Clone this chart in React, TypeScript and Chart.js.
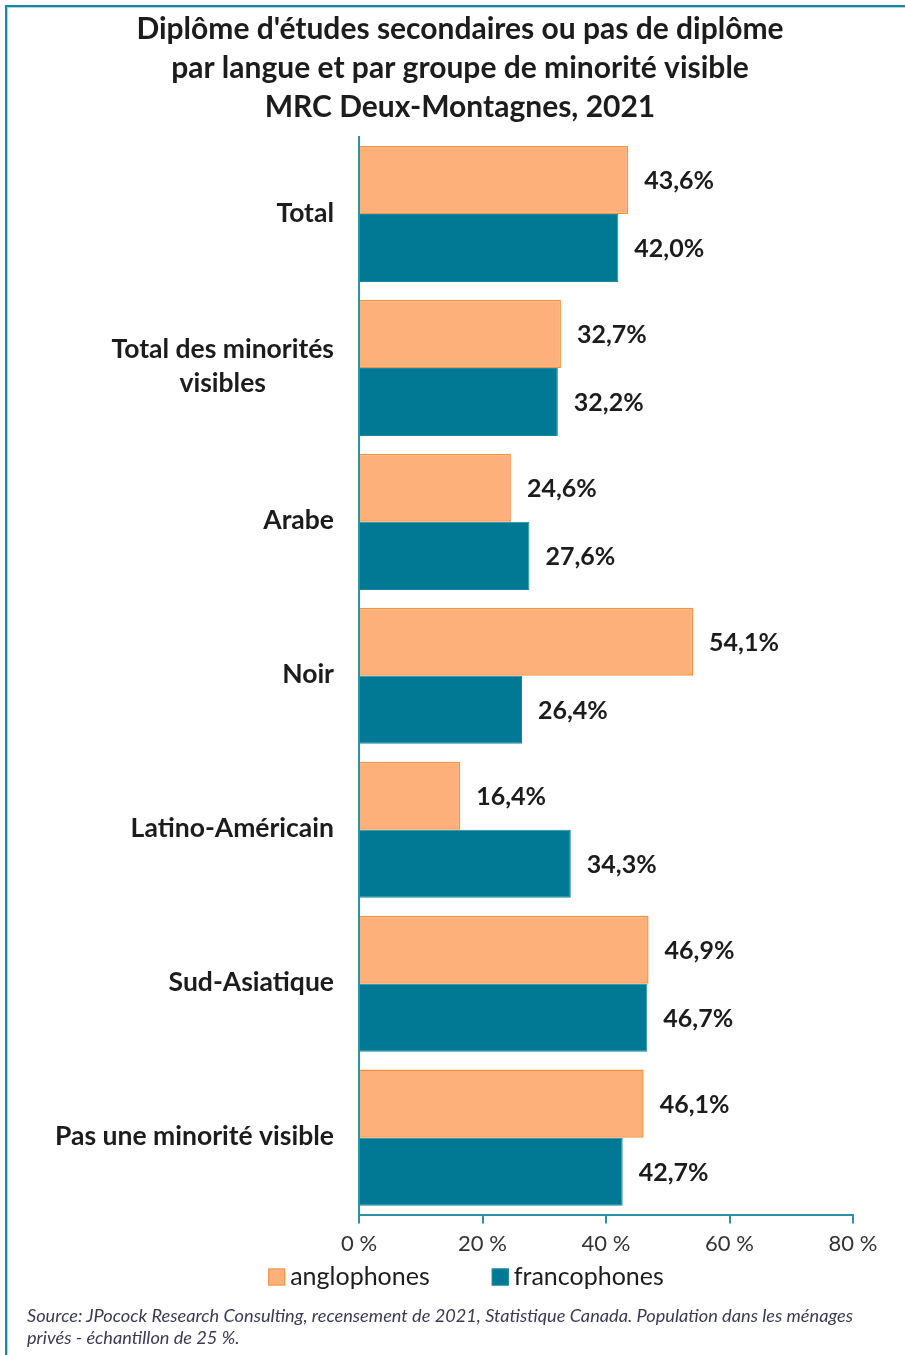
import React, { useEffect, useRef } from 'react';
import { Chart, registerables } from 'chart.js';

Chart.register(...registerables);

const categories: string[][] = [
  ['Total'],
  ['Total des minorités', 'visibles'],
  ['Arabe'],
  ['Noir'],
  ['Latino-Américain'],
  ['Sud-Asiatique'],
  ['Pas une minorité visible'],
];
const anglophones = [43.6, 32.7, 24.6, 54.1, 16.4, 46.9, 46.1];
const francophones = [42.0, 32.2, 27.6, 26.4, 34.3, 46.7, 42.7];
const seriesNames = ['anglophones', 'francophones'];
const xTickValues = [0, 20, 40, 60, 80];
const titleLines = [
  'Diplôme d\'études secondaires ou pas de diplôme',
  'par langue et par groupe de minorité visible',
  'MRC Deux-Montagnes, 2021',
];
const sourceLines = [
  'Source: JPocock Research Consulting, recensement de 2021, Statistique Canada. Population dans les ménages',
  'privés - échantillon de 25 %.',
];

const FONT = 'Lato, "Liberation Sans", sans-serif';
const TEAL_AXIS = '#2f90a8';
const ORANGE_FILL = '#FDB07A';
const ORANGE_BORDER = '#F7913D';
const TEAL_FILL = '#027994';
const TEXT = '#1c1c1c';

const fmt = (v: number) => v.toFixed(1).replace('.', ',') + '%';

const customDraw = {
  id: 'customDraw',
  afterDatasetsDraw(chart: any) {
    const ctx = chart.ctx;
    const yScale = chart.scales.y;
    const area = chart.chartArea;
    ctx.save();
    // category labels
    ctx.font = `bold 26.5px ${FONT}`;
    ctx.fillStyle = TEXT;
    ctx.textBaseline = 'middle';
    ctx.textAlign = 'center';
    const lineH = 34;
    categories.forEach((lines, i) => {
      const yc = yScale.getPixelForValue(i) - 1;
      const w = Math.max(...lines.map((l) => ctx.measureText(l).width));
      const right = area.left - 25;
      const cx = right - w / 2;
      const y0 = yc - ((lines.length - 1) * lineH) / 2;
      lines.forEach((l, j) => ctx.fillText(l, cx, y0 + j * lineH));
    });
    // data labels
    ctx.textAlign = 'left';
    ctx.font = `bold 25px ${FONT}`;
    chart.data.datasets.forEach((ds: any, di: number) => {
      const meta = chart.getDatasetMeta(di);
      meta.data.forEach((el: any, i: number) => {
        ctx.fillText(fmt(ds.data[i]), el.x + 16, el.y + 1);
      });
    });
    // legend
    ctx.font = `25px ${FONT}`;
    const box = 17;
    const gapText = 5;
    const gapItem = 62;
    const widths = chart.data.datasets.map((ds: any) => ctx.measureText(ds.label).width);
    const total = widths.reduce((a: number, w: number) => a + box + gapText + w, 0) + gapItem;
    let x = 466 - total / 2;
    const ly = 1277;
    chart.data.datasets.forEach((ds: any, di: number) => {
      ctx.fillStyle = ds.backgroundColor;
      ctx.fillRect(x, ly - box / 2, box, box);
      ctx.strokeStyle = ds.borderColor;
      ctx.lineWidth = 1;
      ctx.strokeRect(x + 0.5, ly - box / 2 + 0.5, box - 1, box - 1);
      ctx.fillStyle = TEXT;
      ctx.fillText(ds.label, x + box + gapText, ly);
      x += box + gapText + widths[di] + gapItem;
    });
    ctx.restore();
  },
};

export default function App() {
  const ref = useRef<HTMLCanvasElement>(null);
  useEffect(() => {
    if (!ref.current) return;
    const chart = new Chart(ref.current, {
      type: 'bar',
      data: {
        labels: categories.map((c) => c.join(' ')),
        datasets: [
          {
            label: seriesNames[0],
            data: anglophones,
            backgroundColor: ORANGE_FILL,
            borderColor: ORANGE_BORDER,
            borderWidth: 1.5,
            barPercentage: 1,
            categoryPercentage: 0.884,
          },
          {
            label: seriesNames[1],
            data: francophones,
            backgroundColor: TEAL_FILL,
            borderColor: '#1b87a0',
            borderWidth: 1,
            barPercentage: 1,
            categoryPercentage: 0.884,
          },
        ],
      },
      options: {
        indexAxis: 'y',
        animation: false,
        responsive: false,
        devicePixelRatio: 1,
        layout: { padding: { left: 67, right: 52, top: 0, bottom: 36 } },
        plugins: {
          legend: { display: false },
          tooltip: { enabled: false },
          title: {
            display: true,
            text: titleLines,
            color: TEXT,
            font: { family: FONT, size: 30, weight: 'bold', lineHeight: 1.3 },
            padding: { top: 10, bottom: 10 },
          },
        },
        scales: {
          y: {
            type: 'category',
            grid: { display: false },
            border: { display: true, color: TEAL_AXIS, width: 2 },
            ticks: { display: false },
            afterFit: (s: any) => {
              s.width = 292;
            },
          },
          x: {
            type: 'linear',
            min: 0,
            max: 80,
            afterBuildTicks: (s: any) => {
              s.ticks = xTickValues.map((v) => ({ value: v }));
            },
            ticks: {
              callback: (v: any) => `${v} %`,
              color: '#333333',
              font: { family: FONT, size: 22 },
              padding: 7,
            },
            grid: {
              drawOnChartArea: false,
              drawTicks: true,
              tickLength: 9,
              color: TEAL_AXIS,
              lineWidth: 2,
            },
            border: { display: true, color: TEAL_AXIS, width: 2 },
          },
        },
      },
      plugins: [customDraw],
    });
    return () => chart.destroy();
  }, []);

  return (
    <div style={{ position: 'absolute', left: 0, top: 0, width: 905, height: 1355, background: '#fff', overflow: 'hidden' }}>
      <div
        style={{
          position: 'fixed',
          left: 5,
          top: 5,
          right: -20,
          bottom: -20,
          borderLeft: '2px solid #1689a2',
          borderTop: '2px solid #1689a2',
          boxShadow: 'inset 1px 1px 0 #a8d7e2',
        }}
      />
      <canvas ref={ref} width={905} height={1300} style={{ position: 'absolute', left: 0, top: 0 }} />
      <div
        style={{
          position: 'absolute',
          left: 27,
          top: 1304,
          fontFamily: FONT,
          fontStyle: 'italic',
          fontSize: 18.2,
          lineHeight: '22px',
          color: '#3a3a55',
          whiteSpace: 'nowrap',
        }}
      >
        {sourceLines.map((l, i) => (
          <div key={i}>{l}</div>
        ))}
      </div>
    </div>
  );
}
